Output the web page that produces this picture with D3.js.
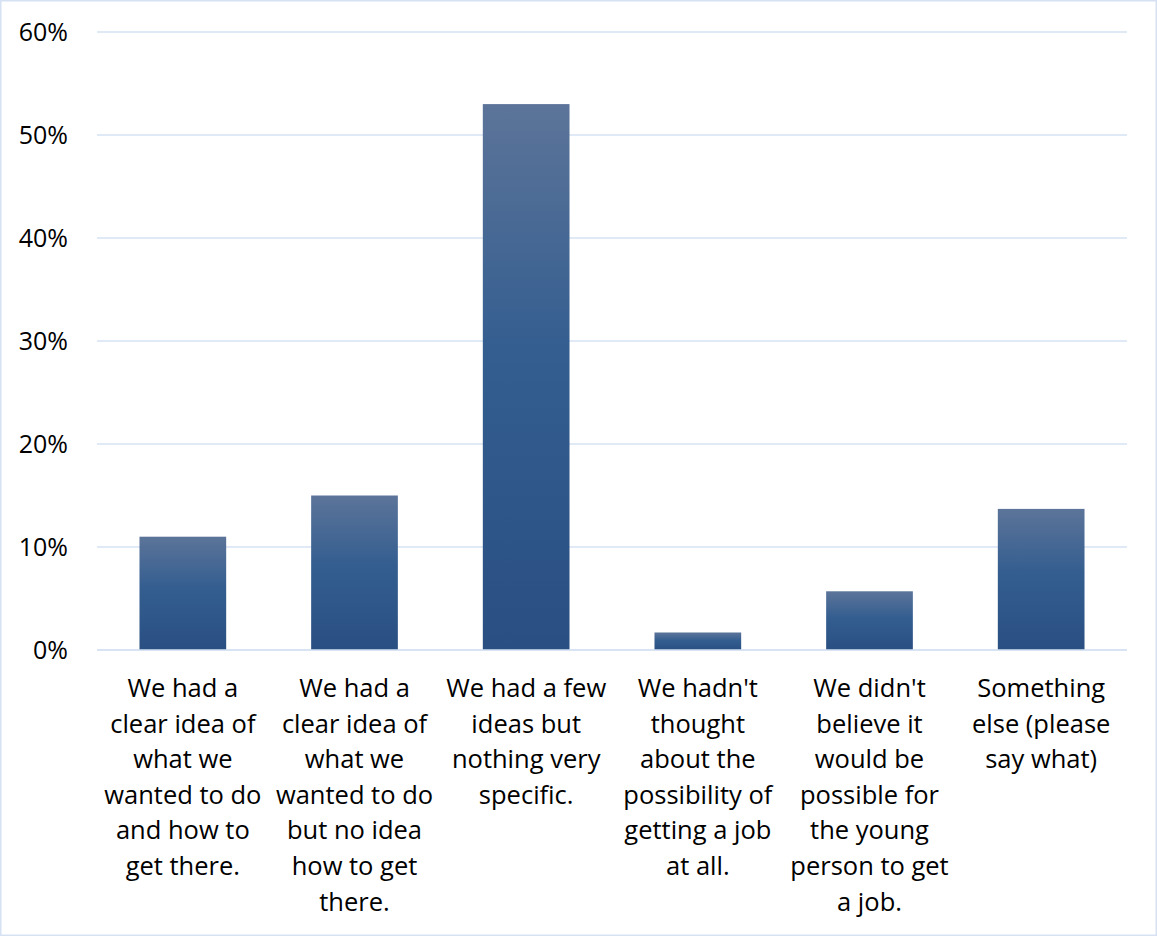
<!DOCTYPE html>
<html>
<head>
<meta charset="utf-8">
<script src="https://cdn.jsdelivr.net/npm/d3@7"></script>
<style>
  html, body { margin: 0; padding: 0; background: #fff; }
  svg { display: block; }
  text { font-family: "Open Sans", Lato, sans-serif; fill: #000; }
</style>
</head>
<body>
<svg id="chart" width="1157" height="936"></svg>
<script>
// Survey answers (category labels, split into display lines)
const categories = [
  ["We had a", "clear idea of", "what we", "wanted to do", "and how to", "get there."],
  ["We had a", "clear idea of", "what we", "wanted to do", "but no idea", "how to get", "there."],
  ["We had a few", "ideas but", "nothing very", "specific."],
  ["We hadn't", "thought", "about the", "possibility of", "getting a job", "at all."],
  ["We didn't", "believe it", "would be", "possible for", "the young", "person to get", "a job."],
  ["Something", "else (please", "say what)"]
];
// Share of respondents for each answer (%)
const values = [11, 15, 53, 1.7, 5.7, 13.7];
const yTicks = [0, 10, 20, 30, 40, 50, 60];

const W = 1157, H = 936;
const FONT = "'Open Sans', Lato, sans-serif";
const svg = d3.select("#chart");

// outer chart border
svg.append("rect")
  .attr("x", 0.75).attr("y", 0.75)
  .attr("width", W - 1.5).attr("height", H - 1.5)
  .attr("fill", "#fff").attr("stroke", "#d6e2f3").attr("stroke-width", 1.5);

const plot = { left: 97, right: 1127, top: 32, bottom: 650 };

const x = d3.scaleBand()
  .domain(d3.range(categories.length))
  .range([plot.left, plot.right])
  .paddingInner(0.495).paddingOuter(0.2475);

const y = d3.scaleLinear().domain([0, 60]).range([plot.bottom, plot.top]);

// gradient fill for the bars
const defs = svg.append("defs");
const grad = defs.append("linearGradient")
  .attr("id", "barFill").attr("x1", 0).attr("y1", 0).attr("x2", 0).attr("y2", 1);
grad.append("stop").attr("offset", "0%").attr("stop-color", "#5c7499");
grad.append("stop").attr("offset", "45%").attr("stop-color", "#345e90");
grad.append("stop").attr("offset", "100%").attr("stop-color", "#2a4f82");

// horizontal gridlines
svg.append("g")
  .selectAll("line")
  .data(yTicks)
  .join("line")
  .attr("x1", plot.left).attr("x2", plot.right)
  .attr("y1", d => y(d)).attr("y2", d => y(d))
  .attr("stroke", "#d6e2f3").attr("stroke-width", 1.5);

// y-axis labels
const yAxis = d3.axisLeft(y).tickValues(yTicks).tickFormat(d => d + "%").tickSize(0).tickPadding(0);
const gy = svg.append("g").attr("transform", `translate(${68},0)`).call(yAxis);
gy.select(".domain").remove();
gy.selectAll("text")
  .attr("font-family", FONT)
  .attr("font-size", 25)
  .attr("fill", "#000")
  .attr("dy", "0.35em");

// bars
svg.append("g")
  .selectAll("rect")
  .data(values)
  .join("rect")
  .attr("x", (d, i) => x(i))
  .attr("width", x.bandwidth())
  .attr("y", d => y(d))
  .attr("height", d => y(0) - y(d))
  .attr("fill", "url(#barFill)");

// baseline on top of bars
svg.append("line")
  .attr("x1", plot.left).attr("x2", plot.right)
  .attr("y1", y(0)).attr("y2", y(0))
  .attr("stroke", "#d6e2f3").attr("stroke-width", 1.5);

// category labels
const xAxis = d3.axisBottom(x).tickSize(0).tickFormat("");
const gx = svg.append("g").attr("transform", `translate(0,${plot.bottom})`).call(xAxis);
gx.select(".domain").remove();
gx.selectAll(".tick").each(function(d) {
  const t = d3.select(this).append("text")
    .attr("text-anchor", "middle")
    .attr("font-family", FONT)
    .attr("font-size", 25.5)
    .attr("fill", "#000");
  categories[d].forEach((line, k) => {
    t.append("tspan").attr("x", 0).attr("y", 47 + k * 35.6).text(line);
  });
});
</script>
</body>
</html>
